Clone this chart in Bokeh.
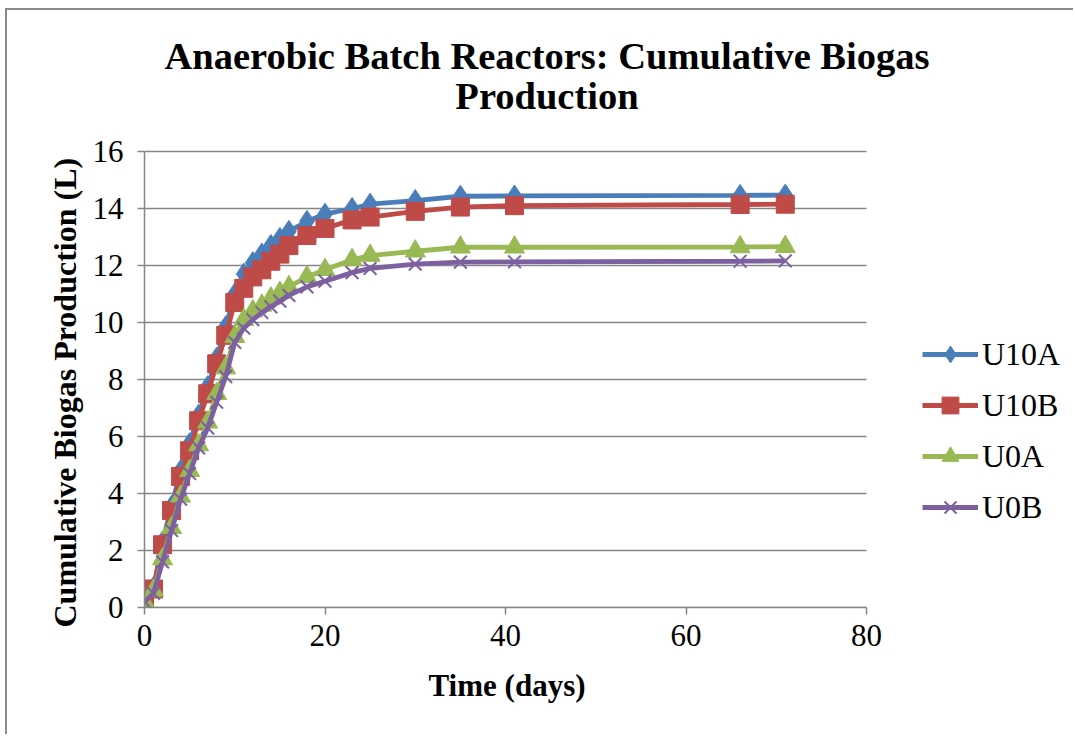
from bokeh.plotting import figure
from bokeh.models import Legend, LegendItem, FixedTicker, Range1d, Title, Label
from bokeh.embed import file_html
from bokeh.resources import INLINE

days = [0, 1, 2, 3, 4, 5, 6, 7, 8, 9, 10, 11, 12, 13, 14, 15, 16, 18, 20, 23, 25, 30, 35, 41, 66, 71]
u10a = [0.22, 0.7, 2.3, 3.55, 4.8, 5.75, 6.75, 7.75, 8.75, 9.85, 11.0, 11.7, 12.1, 12.4, 12.7, 12.95,
        13.2, 13.55, 13.8, 14.0, 14.15, 14.28, 14.43, 14.44, 14.46, 14.47]
u10b = [0.22, 0.65, 2.2, 3.4, 4.6, 5.5, 6.55, 7.5, 8.55, 9.55, 10.7, 11.2, 11.6, 11.85, 12.15, 12.4,
        12.7, 13.05, 13.3, 13.6, 13.7, 13.9, 14.05, 14.1, 14.14, 14.15]
u0a = [0.2, 0.6, 1.7, 2.8, 3.9, 4.8, 5.7, 6.5, 7.5, 8.4, 9.5, 10.1, 10.4, 10.6, 10.85, 11.05,
       11.25, 11.6, 11.85, 12.2, 12.35, 12.5, 12.64, 12.64, 12.65, 12.66]
u0b = [0.2, 0.5, 1.6, 2.7, 3.8, 4.7, 5.6, 6.3, 7.2, 8.1, 9.3, 9.8, 10.1, 10.35, 10.55, 10.75,
       10.95, 11.25, 11.45, 11.75, 11.9, 12.05, 12.12, 12.13, 12.15, 12.16]
x_ticks = [0, 20, 40, 60, 80]
y_ticks = [0, 2, 4, 6, 8, 10, 12, 14, 16]
x_max = 80
y_max = 16
title_1 = "Anaerobic Batch Reactors: Cumulative Biogas"
title_2 = "Production"
x_label = "Time (days)"
y_label = "Cumulative Biogas Production (L)"

SERIF = "Liberation Serif"
GRAY = "#868686"

# layout (pixels)
W, H = 1068, 726
LEFT, BOTTOM = 137, 129
PLOT_W, PLOT_H = 722, 456       # pixel size of the 0..80 x 0..16 plotting area
frame_w, frame_h = W - LEFT, H - BOTTOM
x_end = x_max * frame_w / PLOT_W
y_end = y_max * frame_h / PLOT_H


def px_to_x(px):  # page x pixel -> day units
    return (px - 144) * x_max / PLOT_W


def py_to_y(py):  # page y pixel -> litre units
    return (607 - py) * y_max / PLOT_H


p = figure(width=W, height=H, output_backend="svg", toolbar_location=None,
           x_range=Range1d(0, x_end), y_range=Range1d(0, y_end),
           min_border_left=LEFT, min_border_right=0, min_border_top=0, min_border_bottom=BOTTOM)
p.styles = {"margin-left": "5px", "margin-top": "8px",
            "border-left": "2px solid #8a8a8a", "border-top": "2px solid #8a8a8a"}
p.outline_line_color = None
p.background_fill_color = "white"
p.border_fill_color = "white"

lkw = dict(text_font=SERIF, text_color="black", text_font_style="bold",
           text_font_size="38.5px", text_align="center", text_baseline="alphabetic")
p.add_layout(Label(x=px_to_x(546.5), y=py_to_y(55), text=title_1, **lkw))
p.add_layout(Label(x=px_to_x(546.5), y=py_to_y(95), text=title_2, **lkw))

p.xaxis.ticker = FixedTicker(ticks=x_ticks)
p.yaxis.ticker = FixedTicker(ticks=y_ticks)
p.xaxis.bounds = (0, x_max)
p.yaxis.bounds = (0, y_max)
for ax in (p.xaxis[0], p.yaxis[0]):
    ax.axis_line_color = GRAY
    ax.axis_line_width = 1.5
    ax.major_tick_line_color = GRAY
    ax.major_tick_line_width = 1.5
    ax.major_tick_out = 7
    ax.major_tick_in = 0
    ax.minor_tick_line_color = None
    ax.major_label_text_font = SERIF
    ax.major_label_text_font_size = "31px"
    ax.major_label_text_color = "black"
p.xaxis.major_label_standoff = 10
p.yaxis.major_label_standoff = 14

tkw = dict(text_font=SERIF, text_color="black", text_font_style="bold", align="left")
p.add_layout(Title(text=x_label, text_font_size="31px", offset=284, standoff=34, **tkw), "below")
p.add_layout(Title(text=y_label, text_font_size="32px", offset=-20, standoff=14, **tkw), "left")

p.xgrid.grid_line_color = None
p.ygrid.grid_line_color = None
p.segment(x0=[0] * len(y_ticks), x1=[x_max] * len(y_ticks), y0=y_ticks, y1=y_ticks,
          line_color=GRAY, line_width=1.5, level="underlay")

series = [
    ("U10A", u10a, "#4A7EBB", "diamond", 22),
    ("U10B", u10b, "#BE4B48", "square", 18),
    ("U0A", u0a, "#98B954", "triangle", 20),
    ("U0B", u0b, "#7D60A0", "x", 18),
]
items = []
for name, ys, color, marker, size in series:
    lr = p.line(days, ys, line_color=color, line_width=4.8)
    if marker == "x":
        sr = p.scatter(days, ys, marker=marker, size=size, line_color=color, line_width=2)
    else:
        sr = p.scatter(days, ys, marker=marker, size=size, fill_color=color, line_color=color)
    items.append(LegendItem(label=name, renderers=[lr, sr]))

legend = Legend(items=items, location=(778, 79), orientation="vertical",
                label_text_font=SERIF, label_text_font_size="32px", label_text_color="black",
                glyph_width=56, glyph_height=42, label_height=30, spacing=9,
                label_standoff=4, padding=0, margin=0,
                border_line_color=None, background_fill_alpha=0)
p.add_layout(legend, "center")

open("out.html", "w").write(file_html(p, INLINE))
